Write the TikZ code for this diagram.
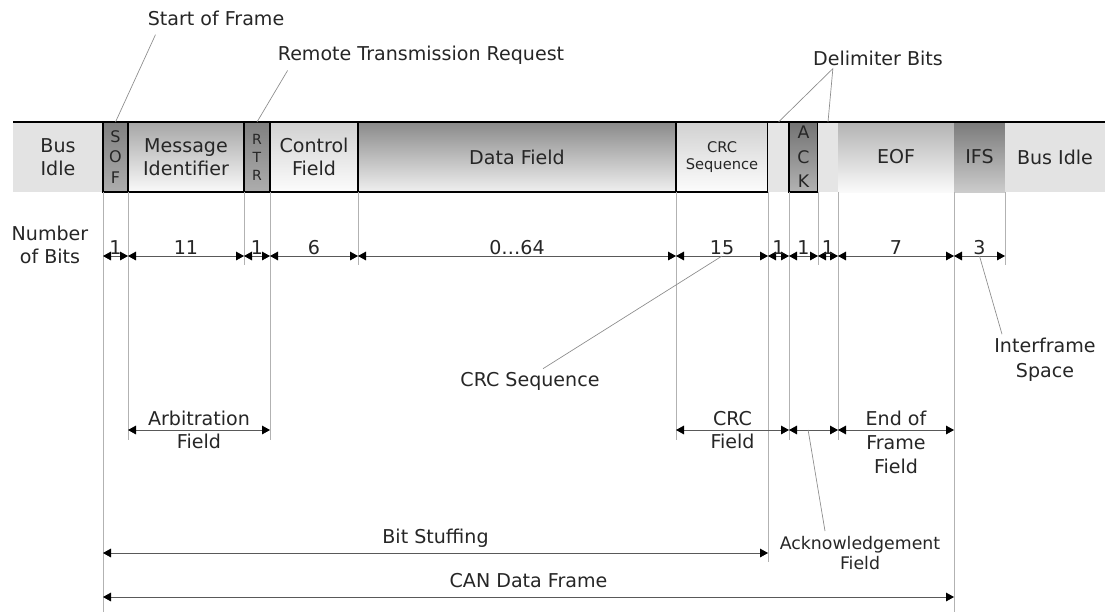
\documentclass[tikz,border=0pt]{standalone}
\usepackage{fontspec}
\setmainfont{DejaVu Sans}
\usetikzlibrary{arrows.meta,calc}

% one field of the frame bar: name, left x, right x, style, text
\newcommand\fieldcell[5]{%
  \node[cellbase,#4,minimum width={(#3-#2)*0.75pt}] (#1) at (#2,122) {#5};}

\begin{document}
\begin{tikzpicture}[x=0.75pt,y=-0.75pt,
  every node/.style={text=black!85},
  big/.style={font=\fontsize{14.3}{17.5}\selectfont},
  cellbase/.style={anchor=north west,inner sep=0pt,outer sep=0pt,
    minimum height=52.5pt,align=center,big},
  framed/.style={draw=black,line width=1.2pt},
  idlecell/.style={fill=black!11},
  delimcell/.style={fill=black!10},
  darkcell/.style={framed,top color=black!50,bottom color=black!32},
  midcell/.style={framed,top color=black!35,bottom color=black!2},
  lightcell/.style={framed,top color=black!18,bottom color=black!1},
  datacell/.style={framed,top color=black!46,bottom color=black!6},
  eofcell/.style={top color=black!30,bottom color=black!2},
  ifscell/.style={top color=black!52,bottom color=black!20},
  guide/.style={draw=black!30,line width=0.75pt},
  leader/.style={draw=black!45,line width=0.5pt},
  dim/.style={draw=black!65,line width=0.6pt,<->,
    >={Triangle[length=6pt,width=6.5pt,color=black]}},
  numlab/.style={big,above,inner sep=1pt},
  lab/.style={big,align=center,inner sep=0pt}
]
\useasboundingbox[fill=white] (0,0) rectangle (1110,612);

% ---- the frame bar ----
\fieldcell{busl}{13}{103}{idlecell}{Bus\\Idle}
\fieldcell{sof}{103}{128}{darkcell,font=\fontsize{12}{15.5}\selectfont}{S\\O\\F}
\fieldcell{msg}{128}{244}{midcell}{Message\\Identifier}
\fieldcell{rtr}{244}{270}{darkcell,font=\fontsize{10.5}{13.5}\selectfont}{R\\T\\R}
\fieldcell{ctl}{270}{358}{lightcell}{Control\\Field}
\fieldcell{data}{358}{676}{datacell}{Data Field}
\fieldcell{crc}{676}{768}{lightcell,font=\fontsize{11}{12.8}\selectfont}{CRC\\Sequence}
\fieldcell{del1}{768}{789}{delimcell}{}
\fieldcell{ack}{789}{818}{darkcell,top color=black!55,bottom color=black!30,
  font=\fontsize{13}{18.5}\selectfont}{A\\C\\K}
\fieldcell{del2}{818}{838}{delimcell}{}
\fieldcell{eof}{838}{954}{eofcell}{EOF}
\fieldcell{ifs}{954}{1005}{ifscell}{IFS}
\fieldcell{busr}{1005}{1105}{idlecell}{Bus Idle}
\draw[line width=1.6pt] (busl.north west) -- (busr.north east);

% ---- levels of the dimension rows ----
\coordinate (numrow) at (0,256);
\coordinate (midrow) at (0,430);
\coordinate (stuffrow) at (0,553);
\coordinate (framerow) at (0,597);
\coordinate (lvlnum) at (0,265);
\coordinate (lvlmid) at (0,440);
\coordinate (lvlstuff) at (0,562);
\coordinate (lvlbot) at (0,612);

% ---- guide lines below the field boundaries ----
\foreach \c/\l in {sof/lvlbot,msg/lvlmid,rtr/lvlnum,ctl/lvlmid,data/lvlnum,
    crc/lvlmid,del1/lvlstuff,ack/lvlmid,del2/lvlnum,eof/lvlmid,ifs/lvlbot,busr/lvlnum}
  \draw[guide] (\c.south west) -- (\c.south west |- \l);

% ---- number of bits ----
\node[lab] (nob) at (50,245) {Number\\of Bits};
\foreach \a/\b/\t/\n in {sof/msg/1/nA,msg/rtr/11/nB,rtr/ctl/1/nC,ctl/data/6/nD,
    data/crc/{0…64}/nE,crc/del1/15/nF,del1/ack/1/nG,ack/del2/1/nH,del2/eof/1/nI,
    eof/ifs/7/nJ,ifs/busr/3/nK}
  \draw[dim] (\a.south west |- numrow) -- node[numlab] (\n) {\t} (\b.south west |- numrow);

% ---- field groups ----
\draw[dim] (msg.south west |- midrow) -- node[lab] (arbl) {Arbitration\\Field}
  (ctl.south west |- midrow);
\draw[dim] (crc.south west |- midrow) -- node[lab] (crcfl) {CRC\\Field}
  (ack.south west |- midrow);
\draw[dim] (ack.south west |- midrow) -- node[pos=0.39,coordinate] (ackpt) {}
  (eof.south west |- midrow);
\draw[dim] (eof.south west |- midrow) -- (ifs.south west |- midrow);
\node[lab,font=\fontsize{14.3}{18}\selectfont] (eofl) at (896,442) {End of\\Frame\\Field};

\draw[dim] (sof.south west |- stuffrow) -- node[lab,above=4pt] (bsl) {Bit Stuffing}
  (del1.south west |- stuffrow);
\draw[dim] (sof.south west |- framerow) -- node[lab,above=7pt] (canl) {CAN Data Frame}
  (ifs.south west |- framerow);

% ---- callout labels ----
\node[lab] (sofl) at (216,18) {Start of Frame};
\node[lab] (rtrl) at (421,55) {Remote Transmission Request};
\node[lab] (dell) at (878,58) {Delimiter Bits};
\node[lab] (crcl) at (530,381) {CRC Sequence};
\node[lab,font=\fontsize{14.3}{18.5}\selectfont] (ifsl) at (1045,360) {Interframe\\Space};
\node[lab,font=\fontsize{13}{15}\selectfont] (ackl) at (860,553) {Acknowledgement\\Field};

\draw[leader] ([shift={(8,9)}]sofl.south west) -- (sof.north);
\draw[leader] ([shift={(10,6)}]rtrl.south west) -- (rtr.north);
\draw[leader] (del1.north) -- ([shift={(20,3)}]dell.south west) -- (del2.north);
\draw[leader] (nF.south) -- ([shift={(13,-3)}]crcl.north);
\draw[leader] (nK.south) -- ([shift={(-43,-4)}]ifsl.north);
\draw[leader] (ackpt) -- ([shift={(-35,-5)}]ackl.north);
\end{tikzpicture}
\end{document}
